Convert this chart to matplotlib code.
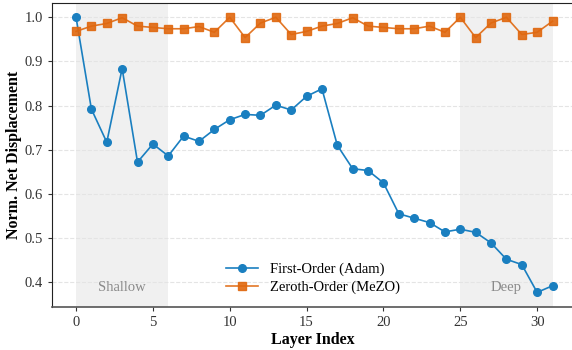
import matplotlib
matplotlib.use('Agg')
import matplotlib.pyplot as plt
import numpy as np

plt.rcParams['font.family'] = ['Liberation Serif', 'DejaVu Serif']

layers = list(range(32))
first_order = [1.000, 0.792, 0.717, 0.884, 0.672, 0.713, 0.686, 0.731,
               0.719, 0.746, 0.768, 0.780, 0.778, 0.801, 0.790, 0.821,
               0.838, 0.710, 0.657, 0.653, 0.625, 0.555, 0.545, 0.535,
               0.514, 0.520, 0.513, 0.489, 0.452, 0.440, 0.377, 0.392]
zeroth_order = [0.968, 0.980, 0.986, 0.999, 0.980, 0.977, 0.974, 0.974,
                0.979, 0.966, 1.000, 0.954, 0.987, 1.000, 0.961, 0.968,
                0.980, 0.986, 0.999, 0.980, 0.977, 0.974, 0.974, 0.980,
                0.966, 1.000, 0.954, 0.987, 1.000, 0.961, 0.966, 0.991]
regions = [(0, 6, 'Shallow'), (25, 31, 'Deep')]

fig = plt.figure(figsize=(5.72, 3.5), dpi=100)
ax = fig.add_axes([0.091, 0.123, 0.912, 0.868])

for lo, hi, name in regions:
    ax.axvspan(lo, hi, color='#f0f0f0', zorder=0, lw=0)
    ax.text((lo + hi) / 2, 0.388, name, ha='center', va='center',
            fontsize=10.5, color='#8a8a8a', zorder=1)

ax.plot(layers, first_order, '-o', color='#1a7fc0', lw=1.2, ms=5.5,
        label='First-Order (Adam)', zorder=3)
ax.plot(layers, zeroth_order, '-s', color='#e0680f', lw=1.2, ms=6,
        alpha=0.9, label='Zeroth-Order (MeZO)', zorder=4)

ax.set_xlim(-1.56, 32.38)
ax.set_ylim(0.344, 1.032)
ax.set_xticks([0, 5, 10, 15, 20, 25, 30])
ax.set_yticks(np.arange(0.4, 1.01, 0.1))
ax.yaxis.grid(True, ls='--', color='#e4e4e4', lw=0.8)
ax.set_axisbelow(True)

ax.tick_params(labelsize=10.5, colors='#333333', length=3)
ax.spines['left'].set_color('#222222')
ax.spines['bottom'].set_color('#555555')
ax.spines['bottom'].set_linewidth(1.2)
ax.spines['top'].set_color('#222222')
ax.spines['right'].set_visible(False)

ax.set_xlabel('Layer Index', fontsize=11.5, fontweight='bold', labelpad=2)
ax.set_ylabel('Norm. Net Displacement', fontsize=11.5, fontweight='bold', labelpad=2)

ax.legend(loc='lower center', frameon=False, fontsize=10.5,
          bbox_to_anchor=(0.5, 0.0), handlelength=2.2, labelspacing=0.3)

fig.savefig('out.png', dpi=100)
